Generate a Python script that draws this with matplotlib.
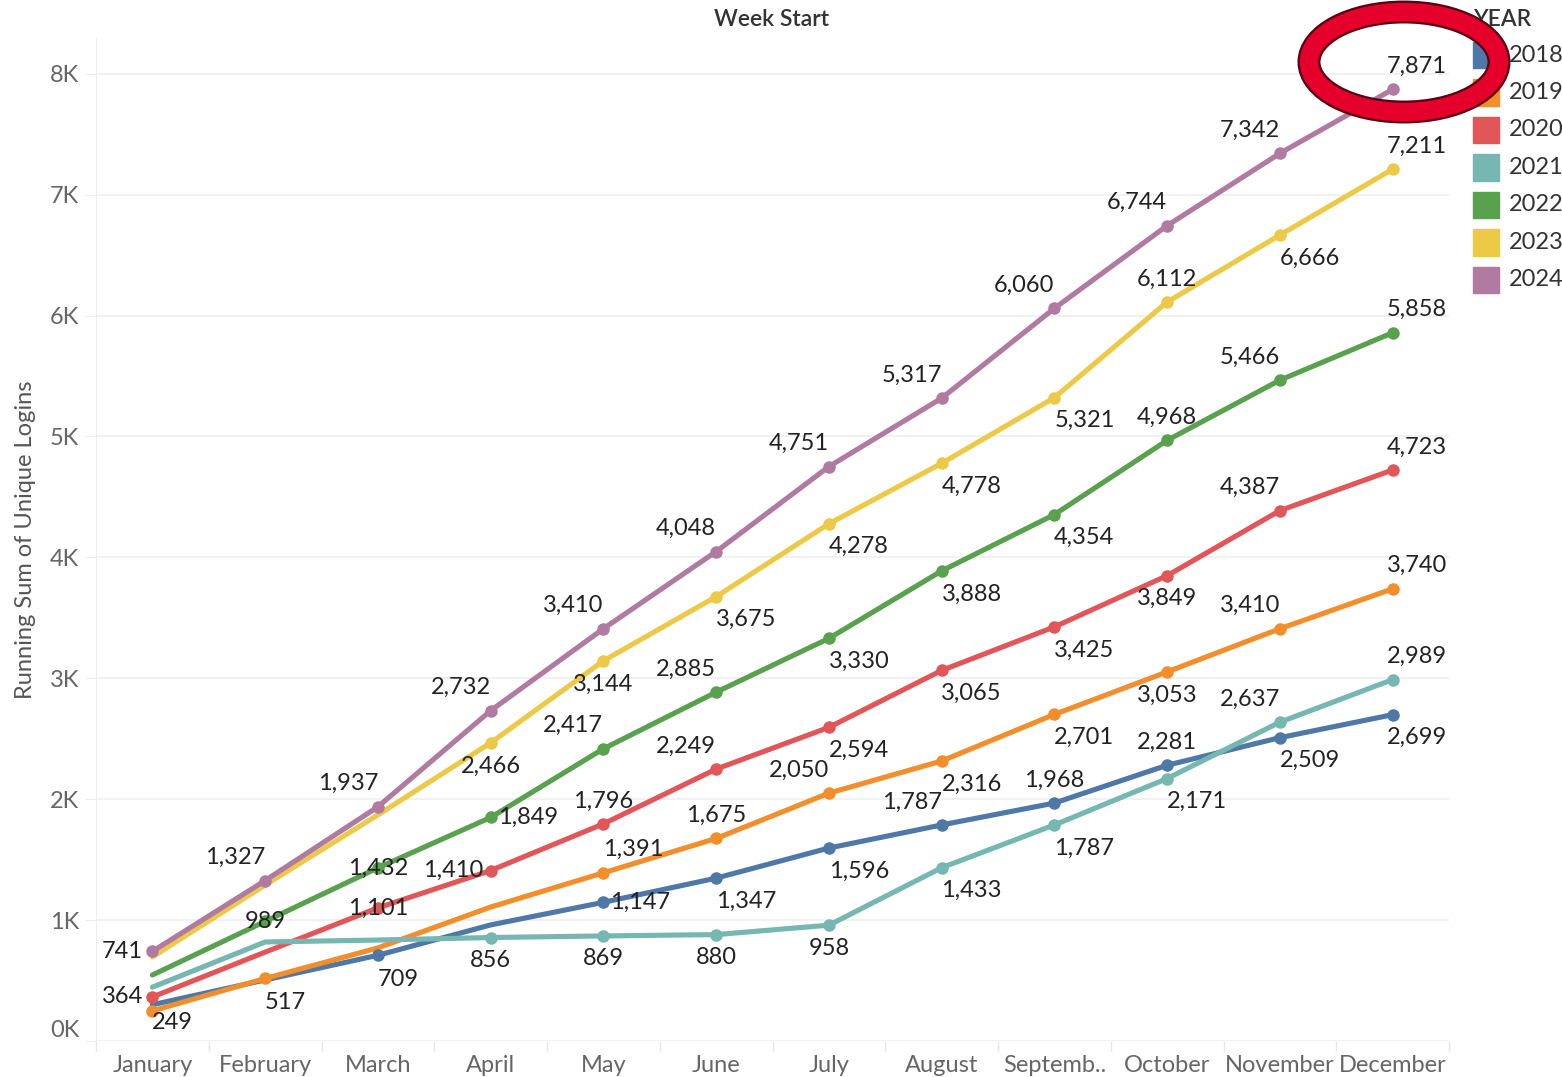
import matplotlib
matplotlib.use("Agg")
import matplotlib.pyplot as plt
from matplotlib.patches import Ellipse, Rectangle

plt.rcParams["font.family"] = ["Lato", "DejaVu Sans"]

months = ["January", "February", "March", "April", "May", "June", "July",
          "August", "Septemb..", "October", "November", "December"]
years = ["2018", "2019", "2020", "2021", "2022", "2023", "2024"]

logins_2018 = [300, 505, 709, 960, 1147, 1347, 1596, 1787, 1968, 2281, 2509, 2699]
logins_2019 = [249, 517, 770, 1108, 1391, 1675, 2050, 2316, 2701, 3053, 3410, 3740]
logins_2020 = [364, 735, 1101, 1410, 1796, 2249, 2594, 3065, 3425, 3849, 4387, 4723]
logins_2021 = [445, 819, 835, 856, 869, 880, 958, 1433, 1787, 2171, 2637, 2989]
logins_2022 = [546, 989, 1432, 1849, 2417, 2885, 3330, 3888, 4354, 4968, 5466, 5858]
logins_2023 = [695, 1290, 1870, 2466, 3144, 3675, 4278, 4778, 5321, 6112, 6666, 7211]
logins_2024 = [741, 1327, 1937, 2732, 3410, 4048, 4751, 5317, 6060, 6744, 7342, 7871]

series = [logins_2018, logins_2019, logins_2020, logins_2021,
          logins_2022, logins_2023, logins_2024]
colors = ["#4E79A7", "#F28E2B", "#E15759", "#76B7B2", "#59A14F", "#EDC948", "#B07AA1"]

# where each data label sits relative to its point (None = no label / marker)
label_pos = {
    "2018": [None, None, "bs", None, "r", "br", "br", "al", "a", "a", "br", "BR"],
    "2019": ["j", "bs", None, None, "ar", "a", "al", "br", "br", "b", "al", "AR"],
    "2020": ["l", None, "c", "L", "a", "al", "br", "br", "br", "b", "al", "AR"],
    "2021": [None, None, None, "b", "b", "b", "b", "br", "br", "br", "al", "AR"],
    "2022": [None, "c", "c", "r", "al", "al", "br", "br", "br", "a", "al", "AR"],
    "2023": [None, None, None, "b", "b", "br", "br", "br", "br", "a", "br", "AR"],
    "2024": ["l", "al", "al", "al", "al", "al", "al", "al", "al", "al", "al", "AR"],
}
# offsets in pixels (dx, dy)
offsets = {
    "a": (0, 23), "al": (-30, 23), "ar": (30, 23), "AR": (24, 23),
    "b": (0, -23), "br": (30, -23), "BR": (24, -23), "bs": (20, -24),
    "l": (-30, 0), "L": (-37, 0), "r": (37, 0), "c": (0, 0), "j": (20, -12),
}

W, H = 1562, 1077
fig = plt.figure(figsize=(W / 100, H / 100), dpi=100)
ax = fig.add_axes([96 / W, 1 - 1041 / H, (1449 - 96) / W, (1041 - 38) / H])

x = list(range(len(months)))
for yr, vals, col in zip(years, series, colors):
    ax.plot(x, vals, color=col, lw=3.7, solid_capstyle="round", zorder=3)
    for i, (v, code) in enumerate(zip(vals, label_pos[yr])):
        if code is None:
            continue
        ax.plot(i, v, "o", color=col, ms=8, zorder=4)
        dx, dy = offsets[code]
        ax.annotate(f"{v:,}", (i, v), xytext=(dx * 0.72, dy * 0.72),
                    textcoords="offset points", ha="center", va="center",
                    fontsize=17, color="#222222", zorder=5)

ax.set_xlim(-0.5, 11.5)
ax.set_ylim(0, 8296)
ax.set_yticks(range(0, 8001, 1000))
ax.set_yticklabels([f"{k}K" for k in range(9)])
ax.get_yticklabels()[0].set_va("bottom")
ax.set_xticks(x)
ax.set_xticklabels(months)
ax.set_xticks([i + 0.5 for i in range(-1, 12)], minor=True)
ax.tick_params(axis="x", which="major", length=0, pad=10, labelsize=17, labelcolor="#666666")
ax.tick_params(axis="x", which="minor", length=7, color="#e6e6e6", width=1)
ax.tick_params(axis="y", length=8, color="#eeeeee", pad=4, labelsize=17, labelcolor="#666666")
ax.grid(axis="y", color="#efefef", lw=1.2, zorder=0)
for side in ["top", "right", "bottom"]:
    ax.spines[side].set_visible(False)
ax.spines["left"].set_color("#eeeeee")
ax.set_ylabel("Running Sum of Unique Logins", fontsize=17, color="#555555", labelpad=10)

fig.text(772 / W, 1 - 20 / H, "Week Start", ha="center", va="center",
         fontsize=16.5, fontweight="semibold", color="#333333")

# legend
fig.text(1473 / W, 1 - 20 / H, "YEAR", ha="left", va="center",
         fontsize=16.5, fontweight="semibold", color="#333333")
for k, (yr, col) in enumerate(zip(years, colors)):
    cy = 55 + k * 37.5
    fig.patches.append(Rectangle((1473 / W, 1 - (cy + 13) / H), 26 / W, 26 / H,
                                 transform=fig.transFigure, color=col, zorder=2))
    fig.text(1509 / W, 1 - cy / H, yr, ha="left", va="center",
             fontsize=17, color="#333333")

# red highlight ring
for lw, col in [(16.5, "#5a0012"), (13.2, "#E4002B")]:
    fig.patches.append(Ellipse((1404 / W, 1 - 62 / H), 190 / W, 100 / H,
                               transform=fig.transFigure, fill=False,
                               lw=lw, edgecolor=col, zorder=10))

fig.savefig("out.png", dpi=100)
